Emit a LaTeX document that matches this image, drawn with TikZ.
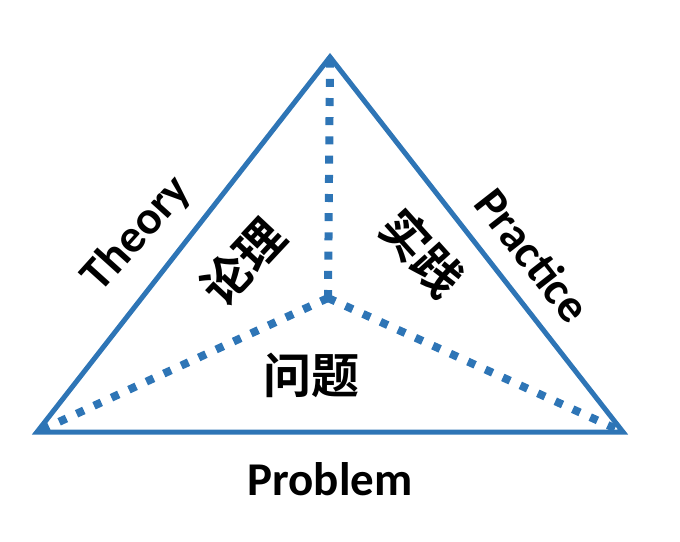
\documentclass[tikz,border=0pt]{standalone}
\usepackage{fontspec}
\setmainfont{Carlito}
\newfontfamily\cjk{Noto Sans CJK SC}[BoldFont={* Bold}]
\definecolor{triblue}{RGB}{46,117,182}
\begin{document}
\begin{tikzpicture}[x=1pt,y=-1pt,
  edge/.style={draw=triblue,line width=5pt,line join=miter},
  dotline/.style={draw=triblue,line width=8pt,dash pattern=on 8pt off 11.2pt},
  en/.style={font=\fontsize{47}{50}\selectfont\bfseries,inner sep=0pt},
  zh/.style={font=\fontsize{48}{52}\selectfont\cjk\bfseries,inner sep=0pt}]
\useasboundingbox (0,0) rectangle (680,541);
\coordinate (A) at (330,57);
\coordinate (L) at (37,432);
\coordinate (R) at (623,432);
\coordinate (C) at (328,298);
\draw[dotline] (C) -- (A);
\draw[dotline] (C) -- (L);
\draw[dotline] (C) -- (R);
\draw[edge] (A) -- (R) -- (L) -- cycle;
\node[en,rotate=48] (theory) at (137,234) {Theory};
\node[en,rotate=-52] (practice) at (533,255) {Practice};
\node[en,anchor=base] (problem) at (330,495) {Problem};
\node[zh,rotate=47] (lunli) at (243,262) {论理};
\node[zh,rotate=-48] (shijian) at (422,253) {实践};
\node[zh] (wenti) at (311,375) {问题};
\end{tikzpicture}
\end{document}
